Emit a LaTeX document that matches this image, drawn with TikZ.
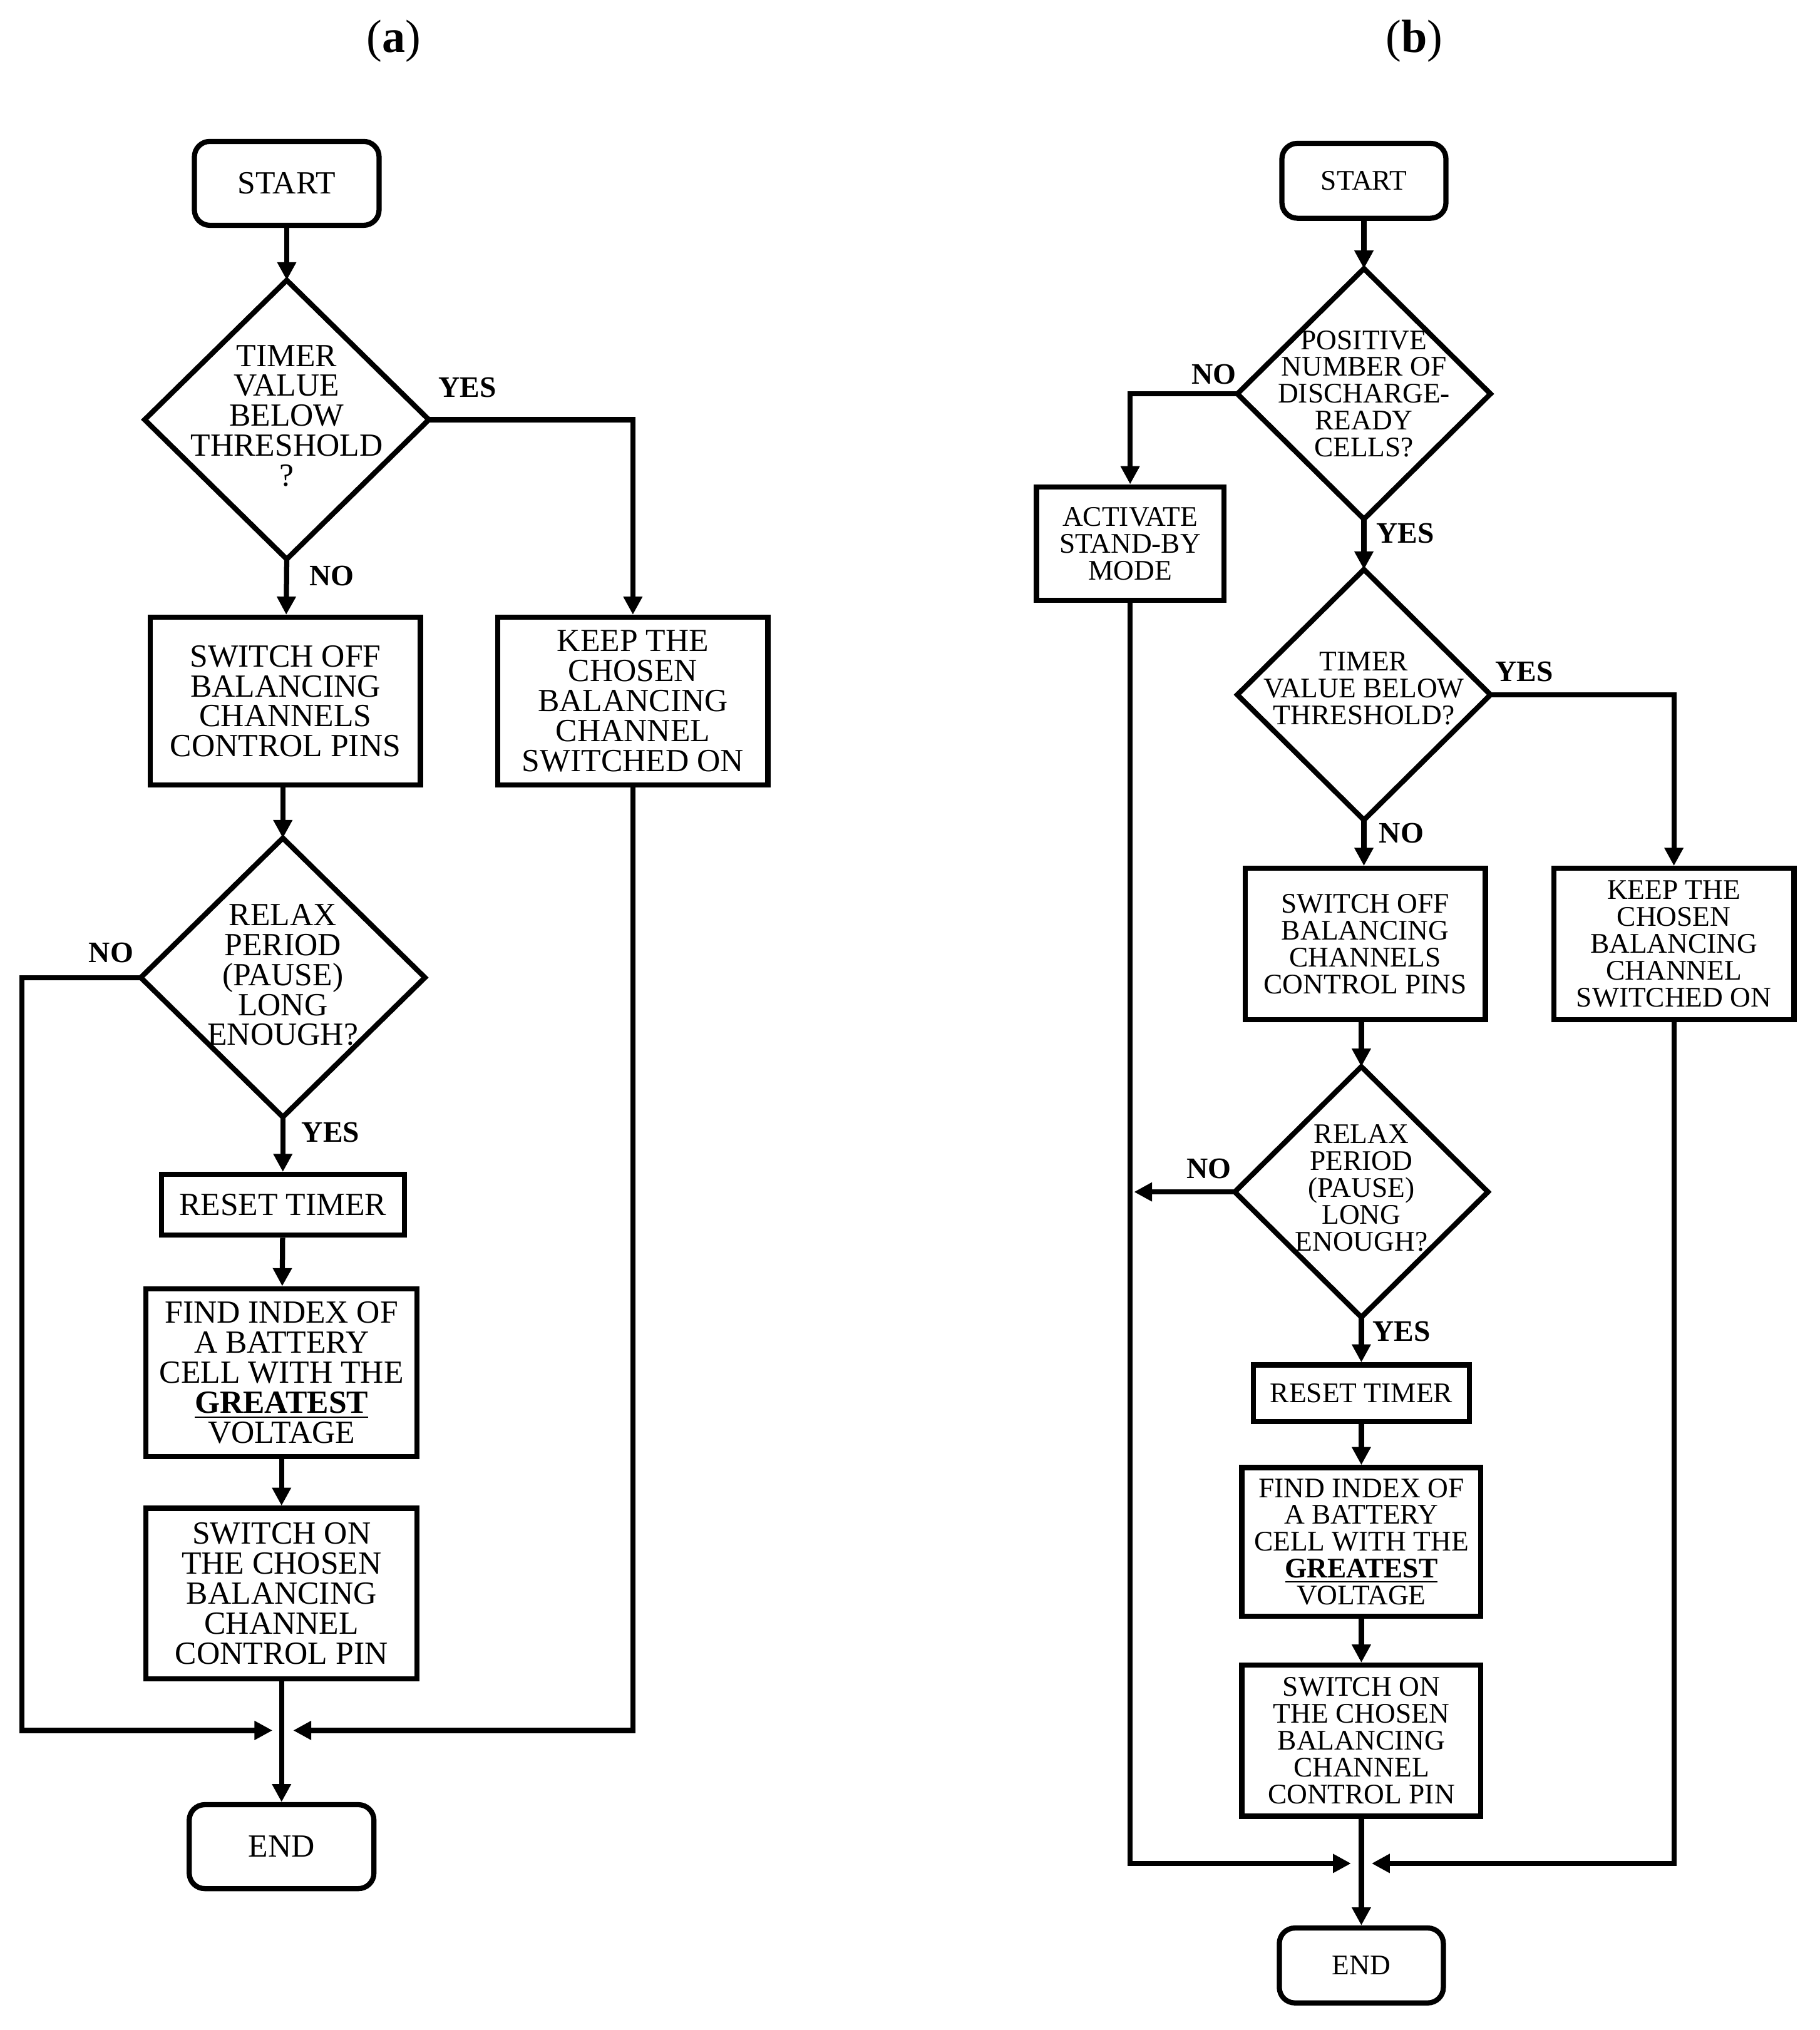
\documentclass[tikz,border=0pt]{standalone}
\usepackage{fontspec}
\setmainfont{Liberation Serif}
\usetikzlibrary{arrows.meta}
\newcommand\mydia[5]{%
 \coordinate (#1-n) at (#2,#3-#5);
 \coordinate (#1-s) at (#2,#3+#5);
 \coordinate (#1-e) at (#2+#4,#3);
 \coordinate (#1-w) at (#2-#4,#3);
 \draw[lw] (#1-n)--(#1-e)--(#1-s)--(#1-w)--cycle;}
\begin{document}
\begin{tikzpicture}[x=0.5pt,y=-0.5pt,
 lw/.style={line width=2pt,line join=miter},
 box/.style 2 args={draw,lw,rectangle,minimum width=#1*0.5pt,minimum height=#2*0.5pt,inner sep=0pt,align=center},
 ta/.style={font=\fontsize{12.5}{11.6}\selectfont},
 tb/.style={font=\fontsize{11}{10.4}\selectfont},
 lab/.style={font=\fontsize{11.5}{12}\selectfont\bfseries},
 arr/.style={lw,-{Triangle[length=7pt,width=7pt]}},
 ln/.style={lw}]
\useasboundingbox (0,0) rectangle (1409,1572);
\node[font=\fontsize{18}{20}\selectfont] (la) at (305,32) {(\textbf{a})};
\node[font=\fontsize{18}{20}\selectfont] (lb) at (1095,32) {(\textbf{b})};
% ---------- (a)
\node[box={143}{65},rounded corners=6pt,ta] (sa) at (222,142) {START};
\mydia{da1}{222}{325}{110}{108}
\node[ta,align=center] (ta1) at (222,322) {TIMER\\VALUE\\BELOW\\THRESHOLD\\?};
\node[box={209}{130},ta] (offa) at (221,543) {SWITCH OFF\\BALANCING\\CHANNELS\\CONTROL PINS};
\node[box={209}{130},ta] (keepa) at (490,543) {KEEP THE\\CHOSEN\\BALANCING\\CHANNEL\\SWITCHED ON};
\mydia{da2}{219}{757}{110}{108}
\node[ta,align=center] (ta2) at (219,755) {RELAX\\PERIOD\\(PAUSE)\\LONG\\ENOUGH?};
\node[box={188}{47},ta] (reseta) at (219,933) {RESET TIMER};
\node[box={210}{130},ta] (finda) at (218,1063) {FIND INDEX OF\\A BATTERY\\CELL WITH THE\\\underline{\textbf{GREATEST}}\\VOLTAGE};
\node[box={210}{132},ta] (ona) at (218,1234) {SWITCH ON\\THE CHOSEN\\BALANCING\\CHANNEL\\CONTROL PIN};
\node[box={143}{65},rounded corners=6pt,ta] (enda) at (218,1430) {END};
\coordinate (ma) at (219,1340);
\coordinate (ca1) at (490,325);
\coordinate (ca2) at (17,757);
\coordinate (ca3) at (17,1340);
\coordinate (ca4) at (490,1340);
\draw[arr] (sa) -- (da1-n);
\draw[arr] (da1-s) -- (offa);
\draw[arr] (da1-e) -- (ca1) -- (keepa);
\draw[arr] (offa.south -| da2-n) -- (da2-n);
\draw[arr] (da2-s) -- (reseta.north -| da2-s);
\draw[arr] (reseta) -- (finda);
\draw[arr] (finda) -- (ona);
\draw[arr] (ona) -- (enda);
\draw[arr] (da2-w) -- (ca2) -- (ca3) -- ([xshift=-4pt]ma);
\draw[arr] (keepa) -- (ca4) -- ([xshift=4pt]ma);
\node[lab] (ya1) at (362,300) {YES};
\node[lab] (na1) at (257,446) {NO};
\node[lab] (na2) at (86,738) {NO};
\node[lab] (ya2) at (256,877) {YES};
% ---------- (b)
\node[box={127}{58},rounded corners=6pt,tb] (sb) at (1056,140) {START};
\mydia{db1}{1056}{305}{98}{97}
\node[tb,align=center] (tb1) at (1056,305) {POSITIVE\\NUMBER OF\\DISCHARGE-\\READY\\CELLS?};
\node[box={145}{88},tb] (actb) at (875,421) {ACTIVATE\\STAND-BY\\MODE};
\mydia{db2}{1056}{538}{98}{97}
\node[tb,align=center] (tb2) at (1056,533) {TIMER\\VALUE BELOW\\THRESHOLD?};
\node[box={186}{117},tb] (offb) at (1057,731) {SWITCH OFF\\BALANCING\\CHANNELS\\CONTROL PINS};
\node[box={186}{117},tb] (keepb) at (1296,731) {KEEP THE\\CHOSEN\\BALANCING\\CHANNEL\\SWITCHED ON};
\mydia{db3}{1054}{923}{98}{97}
\node[tb,align=center] (tb3) at (1054,920) {RELAX\\PERIOD\\(PAUSE)\\LONG\\ENOUGH?};
\node[box={167}{44},tb] (resetb) at (1054,1079) {RESET TIMER};
\node[box={185}{115},tb] (findb) at (1054,1194) {FIND INDEX OF\\A BATTERY\\CELL WITH THE\\\underline{\textbf{GREATEST}}\\VOLTAGE};
\node[box={185}{117},tb] (onb) at (1054,1348) {SWITCH ON\\THE CHOSEN\\BALANCING\\CHANNEL\\CONTROL PIN};
\node[box={127}{58},rounded corners=6pt,tb] (endb) at (1054,1522) {END};
\coordinate (mb) at (1054,1443);
\coordinate (cb1) at (875,305);
\coordinate (cb2) at (1296,538);
\coordinate (cb3) at (878,923);
\coordinate (cb4) at (875,1443);
\coordinate (cb5) at (1296,1443);
\draw[arr] (sb) -- (db1-n);
\draw[arr] (db1-w) -- (cb1) -- (actb);
\draw[arr] (db1-s) -- (db2-n);
\draw[arr] (db2-e) -- (cb2) -- (keepb);
\draw[arr] (db2-s) -- (offb.north -| db2-s);
\draw[arr] (offb.south -| db3-n) -- (db3-n);
\draw[arr] (db3-w) -- (cb3);
\draw[arr] (db3-s) -- (resetb);
\draw[arr] (resetb) -- (findb);
\draw[arr] (findb) -- (onb);
\draw[arr] (onb) -- (endb);
\draw[arr] (actb) -- (cb4) -- ([xshift=-4pt]mb);
\draw[arr] (keepb) -- (cb5) -- ([xshift=4pt]mb);
\node[lab] (nb1) at (940,290) {NO};
\node[lab] (yb1) at (1088,413) {YES};
\node[lab] (yb2) at (1180,520) {YES};
\node[lab] (nb2) at (1085,645) {NO};
\node[lab] (nb3) at (936,905) {NO};
\node[lab] (yb3) at (1085,1031) {YES};
\end{tikzpicture}
\end{document}
